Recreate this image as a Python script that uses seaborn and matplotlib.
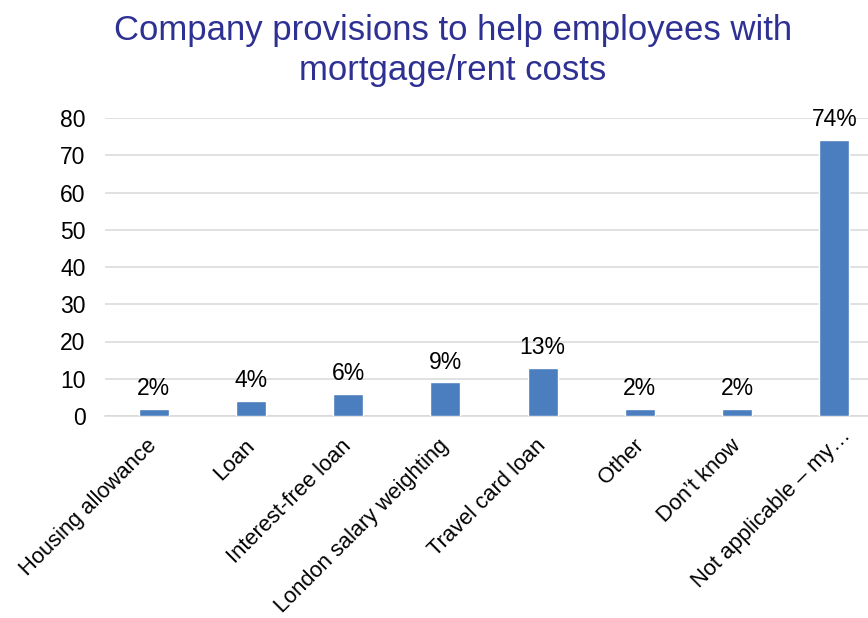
import matplotlib
matplotlib.use("Agg")
import matplotlib.pyplot as plt
import matplotlib.transforms as mtransforms
import seaborn as sns
import pandas as pd

categories = [
    "Housing allowance",
    "Loan",
    "Interest-free loan",
    "London salary weighting",
    "Travel card loan",
    "Other",
    "Don\u2019t know",
    "Not applicable \u2013 my\u2026",
]
values = [2, 4, 6, 9, 13, 2, 2, 74]
value_labels = ["2%", "4%", "6%", "9%", "13%", "2%", "2%", "74%"]
y_ticks = [0, 10, 20, 30, 40, 50, 60, 70, 80]

sns.set_theme(style="white")
plt.rcParams["font.family"] = ["Liberation Sans", "DejaVu Sans"]

df = pd.DataFrame({"category": categories, "value": values})

fig = plt.figure(figsize=(8.68, 6.18), dpi=100)
ax = fig.add_axes([105 / 868, 1 - 416 / 618, 778 / 868, (416 - 118) / 618])

sns.barplot(data=df, x="category", y="value", color="#4A7EBF", width=0.31,
            saturation=1, ax=ax, zorder=3)

ax.set_ylim(0, 80)
ax.set_yticks(y_ticks)
ax.set_xlim(-0.5, len(categories) - 0.5)
ax.yaxis.grid(True, color="#D9D9D9", linewidth=1.1, zorder=0)
ax.set_axisbelow(True)
for side in ["top", "right", "left"]:
    ax.spines[side].set_visible(False)
ax.spines["bottom"].set_color("#D9D9D9")
ax.spines["bottom"].set_linewidth(1.1)
ax.set_xlabel("")
ax.set_ylabel("")

ax.tick_params(axis="y", labelsize=16.5, colors="black", length=0, pad=14)
ax.tick_params(axis="x", labelsize=15.8, colors="black", length=0, pad=14)
ax.set_xticks(range(len(categories)))
ax.set_xticklabels(categories, rotation=45, ha="right", rotation_mode="anchor")

# nudge the rotated category labels so their ends sit under the bars
for i, lbl in enumerate(ax.get_xticklabels()):
    dx, dy = (-7, 0) if i < len(categories) - 1 else (6, 10)
    lbl.set_transform(lbl.get_transform() +
                      mtransforms.ScaledTranslation(dx / 100, dy / 100, fig.dpi_scale_trans))

for i, (v, lab) in enumerate(zip(values, value_labels)):
    ax.annotate(lab, xy=(i, v), xytext=(0, 10), textcoords="offset points",
                ha="center", va="baseline", fontsize=16.5, color="black")

fig.text(0.522, 0.978, "Company provisions to help employees with\nmortgage/rent costs",
         ha="center", va="top", fontsize=25, color="#2E3192", linespacing=1.27)

fig.savefig("out.png", dpi=100)
